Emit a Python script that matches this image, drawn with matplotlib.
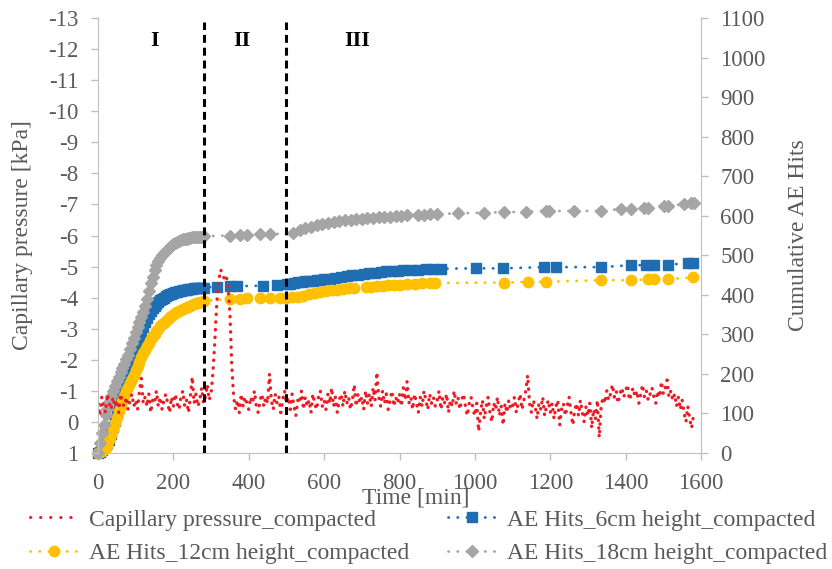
import numpy as np
import matplotlib
matplotlib.use("Agg")
import matplotlib.pyplot as plt
from matplotlib.lines import Line2D

plt.rcParams["font.family"] = ["Liberation Serif", "DejaVu Serif"]
plt.rcParams["axes.unicode_minus"] = False

# ---- data ----
# time grid of the early (dense) part, minutes
t_early = [0, 5, 10, 15, 20, 25, 30, 35, 40, 45, 50, 55, 60, 65, 70, 75, 80, 85, 90, 95,
           100, 105, 110, 115, 120, 125, 130, 135, 140, 145, 150, 155, 160, 165, 170, 175,
           180, 185, 190, 195, 200, 205, 210, 215, 220, 225, 230, 235, 240, 245, 250, 255,
           260, 265, 270, 275, 280]

hits6_early = [0, 3, 8, 14, 20, 26, 33, 48, 65, 82, 100, 118, 138, 158, 178, 198, 216, 233, 250, 264,
               276, 286, 295, 307, 319, 331, 342, 351, 359, 366, 372, 377, 382, 386, 390, 393,
               396, 399, 401, 403, 405, 407, 408, 409, 410, 411, 412, 413, 414, 415, 415, 416,
               416, 417, 417, 418, 418]
hits12_early = [0, 2, 5, 9, 13, 20, 32, 45, 60, 76, 92, 105, 118, 131, 144, 157, 168, 178, 187, 198,
                209, 220, 231, 242, 252, 261, 270, 279, 288, 295, 302, 308, 314, 320, 325, 330,
                335, 339, 343, 347, 350, 353, 356, 359, 361, 363, 366, 368, 370, 372, 375, 377,
                379, 380, 382, 383, 385]
hits18_early = [0, 25, 50, 72, 95, 112, 130, 145, 158, 170, 183, 193, 204, 215, 226, 237, 248, 262, 277, 291,
                305, 318, 331, 344, 357, 372, 390, 410, 429, 446, 462, 475, 485, 493, 500, 506,
                511, 516, 520, 524, 528, 531, 534, 537, 539, 540, 541, 542, 543, 544, 545, 545,
                546, 546, 547, 547, 548]

t6_late = [316, 351, 369, 439, 476, 502, 510, 520, 530, 540, 550, 560, 570, 580, 590, 600, 615, 630,
           645, 660, 675, 690, 705, 720, 735, 750, 765, 780, 795, 810, 830, 850, 870, 890, 910,
           1002, 1074, 1183, 1215, 1334, 1414, 1454, 1475, 1512, 1565, 1579]
hits6_late = [421, 422, 422, 423, 425, 427, 428, 430, 432, 433, 434, 435, 436, 437, 438, 439, 441, 443,
              445, 447, 449, 451, 453, 455, 456, 457, 459, 460, 461, 462, 463, 464, 465, 466, 466,
              467, 467, 470, 470, 470, 475, 475, 475, 476, 480, 481]

t12_late = [351, 377, 396, 431, 457, 484, 500, 515, 530, 545, 560, 575, 590, 605, 620, 635, 650, 665,
            680, 710, 725, 740, 755, 770, 785, 800, 820, 840, 860, 880, 895,
            1076, 1140, 1188, 1334, 1414, 1459, 1475, 1512, 1579]
hits12_late = [389, 390, 391, 391, 392, 392, 393, 394, 395, 398, 401, 404, 407, 409, 411, 413, 415, 417,
               418, 420, 421, 422, 423, 424, 425, 426, 427, 428, 429, 430, 430,
               431, 433, 433, 437, 437, 439, 440, 440, 444]

t18_late = [351, 377, 396, 431, 457, 518, 535, 550, 565, 580, 595, 610, 625, 640, 655, 670, 685, 700,
            715, 730, 745, 760, 775, 790, 805, 820, 850, 865, 880, 900,
            954, 1023, 1076, 1135, 1188, 1196, 1262, 1334, 1387, 1414, 1449, 1459, 1502, 1512,
            1555, 1573, 1581]
hits18_late = [550, 552, 552, 553, 553, 556, 563, 568, 572, 576, 579, 582, 584, 586, 588, 590, 591, 592,
               593, 594, 596, 597, 598, 599, 600, 601, 603, 603, 604, 604,
               606, 608, 609, 610, 612, 612, 612, 612, 617, 617, 619, 619, 625, 625,
               629, 631, 632]

# capillary pressure [kPa], logged every 5 min from t = 0 (one row = 100 min)
p_interval = 5
pressure = [
    -0.6, -0.2, -0.8, -0.5, -0.3, -0.9, -0.6, -0.4, -0.8, -0.5, -0.7, -0.3, -0.9, -0.6, -0.5, -0.8, -0.4, -0.7, -0.9, -0.5,
    -0.7, -0.4, -1.0, -1.4, -0.6, -0.8, -0.5, -0.9, -0.3, -0.7, -0.6, -1.0, -0.5, -0.8, -0.4, -0.7, -0.9, -0.6, -0.3, -0.8,
    -0.5, -0.9, -0.6, -0.4, -0.8, -1.0, -0.5, -0.7, -0.3, -0.8, -1.45, -0.6, -0.9, -0.5, -0.7, -1.1, -0.6, -0.8, -1.2, -0.7,
    -0.9, -1.6, -2.6, -3.8, -4.5, -4.9, -4.8, -4.6, -4.7, -4.4, -3.5, -1.8, -0.8, -0.4, -0.7, -0.3, -0.9, -0.5, -0.8, -0.6,
    -0.4, -0.8, -0.6, -1.0, -0.5, -0.3, -0.7, -0.9, -0.5, -0.8, -0.6, -1.55, -0.7, -0.4, -0.9, -0.6, -0.8, -0.3, -0.7, -1.0,
    -0.6, -0.8, -0.4, -0.9, -0.5, -0.2, -0.7, -0.6, -1.0, -0.4, -0.8, -0.5, -0.7, -0.3, -0.9, -0.6, -0.4, -0.8, -1.0, -0.5,
    -0.7, -0.4, -0.9, -0.6, -1.1, -0.5, -0.8, -0.3, -0.7, -0.9, -0.5, -1.0, -0.6, -0.8, -0.4, -0.7, -1.2, -0.5, -0.9, -0.6,
    -0.8, -0.4, -1.0, -0.6, -0.9, -0.5, -1.1, -0.7, -1.6, -0.8, -0.5, -1.0, -0.6, -0.9, -0.4, -0.7, -1.0, -0.5, -0.8, -0.6,
    -0.9, -0.5, -1.1, -0.7, -1.3, -0.6, -0.8, -0.4, -0.9, -0.6, -0.3, -0.8, -0.5, -1.0, -0.7, -0.4, -0.9, -0.6, -0.8, -0.5,
    -0.7, -1.0, -0.4, -0.8, -0.6, -0.9, -0.3, -0.7, -0.5, -1.0, -0.6, -0.8, -0.4, -0.7, -0.9, -0.5, -0.2, -0.6, -0.8, -0.4,
    -0.2, -0.6, 0.3, -0.3, -0.7, -0.1, -0.5, -0.8, -0.3, 0.0, -0.6, -0.4, -0.8, -0.2, -0.5, 0.1, -0.6, -0.3, -0.7, -0.4,
    -0.5, -0.8, -0.3, -0.6, -0.9, -0.4, -0.7, -1.0, -1.5, -0.6, -0.3, -0.7, -0.5, -0.1, -0.6, -0.4, -0.8, -0.2, -0.5, -0.7,
    -0.3, -0.6, -0.1, -0.5, -0.7, 0.1, -0.4, -0.6, -0.2, -0.5, -0.8, -0.3, 0.1, -0.4, -0.6, -0.2, -0.7, -0.3, 0.0, -0.5,
    -0.2, -0.6, 0.2, -0.4, -0.1, -0.7, 0.5, -0.5, -0.8, -0.6, -1.0, -0.7, -0.9, -1.2, -0.8, -1.0, -0.6, -0.9, -1.1, -0.8,
    -1.0, -1.2, -0.7, -0.9, -1.1, -0.8, -1.0, -0.6, -0.9, -1.2, -0.8, -1.0, -0.7, -0.9, -1.1, -0.8, -0.6, -1.0, -0.8, -1.3,
    -0.9, -1.1, -1.35, -0.8, -1.0, -0.7, -0.9, -0.5, -0.8, -0.4, -0.7, -0.3, 0.0, -0.5, -0.1, 0.2, -0.2]
t_pressure = np.arange(len(pressure)) * p_interval

stage_bounds = [282, 500]
stage_names = ["I", "II", "III"]
stage_label_t = [151, 382, 687]

# ---- plot ----
c_red = "#ED1C24"
c_blue = "#1F6EB4"
c_yel = "#FFC000"
c_gray = "#A5A5A5"
c_axis = "#BFBFBF"
c_text = "#595959"
fs_tick = 16.5
fs_lab = 17
dots = (0, (0.1, 3.2))

fig = plt.figure(figsize=(8.32, 5.69), dpi=100)
ax = fig.add_axes([98 / 832, 1 - 453 / 569, 603 / 832, 435 / 569])
ax2 = ax.twinx()

# AE hits on ax (right side), pressure on ax2 (left side, drawn on top)
ax.yaxis.tick_right()
ax.yaxis.set_label_position("right")
ax2.yaxis.tick_left()
ax2.yaxis.set_label_position("left")

l6, = ax.plot(t_early + t6_late, hits6_early + hits6_late, color=c_blue, marker="s",
              markersize=7, linestyle=dots, lw=2, dash_capstyle="round", clip_on=False, zorder=2)
l12, = ax.plot(t_early + t12_late, hits12_early + hits12_late, color=c_yel, marker="o",
               markersize=7.5, linestyle=dots, lw=2, dash_capstyle="round", clip_on=False, zorder=3)
l18, = ax.plot(t_early + t18_late, hits18_early + hits18_late, color=c_gray, marker="D",
               markersize=6.5, linestyle=dots, lw=2, dash_capstyle="round", clip_on=False, zorder=4)

ax2.plot(t_pressure, pressure, color=c_red, linestyle=(0, (0.1, 2.2)), lw=2.4,
         dash_capstyle="round")
lp = Line2D([], [], color=c_red, linestyle=dots, lw=2.2, dash_capstyle="round")

for tb in stage_bounds:
    ax2.axvline(tb, ymin=0, ymax=0.99, color="black", lw=2.2, linestyle=(0, (2.6, 1.6)))
for name, tx in zip(stage_names, stage_label_t):
    ax2.text(tx, -12.25, name, ha="center", va="center", fontsize=16, fontweight="bold",
             color="black")

ax.set_xlim(0, 1600)
ax.set_ylim(0, 1100)
ax.set_yticks(np.arange(0, 1101, 100))
ax2.set_ylim(1, -13)
ax2.set_yticks(np.arange(-13, 2, 1))
ax.set_xticks(np.arange(0, 1601, 200))

for a in (ax, ax2):
    for s in a.spines.values():
        s.set_color(c_axis)
    a.spines["top"].set_visible(False)
    a.tick_params(colors=c_axis, labelcolor=c_text, labelsize=fs_tick, length=5, width=1)
ax.spines["left"].set_visible(False)
ax2.spines["right"].set_visible(False)
ax2.spines["bottom"].set_visible(False)
ax.tick_params(axis="y", pad=9)
ax.tick_params(axis="x", pad=9.5)
ax2.tick_params(axis="y", pad=9)

ax2.set_ylabel("Capillary pressure [kPa]", fontsize=fs_lab, color=c_text)
ax2.yaxis.set_label_coords(-0.108, 0.5)
ax.set_ylabel("Cumulative AE Hits", fontsize=fs_lab, color=c_text)
ax.yaxis.set_label_coords(1.145, 0.5)
ax.set_xlabel("Time [min]", fontsize=fs_lab, color=c_text)
ax.xaxis.set_label_coords(0.527, -0.08)

leg_kw = dict(frameon=False, fontsize=fs_lab, handlelength=2.0, handletextpad=0.5,
              labelspacing=0.52, borderpad=0, borderaxespad=0, numpoints=1,
              labelcolor=c_text, loc="upper left")
fig.legend([lp, l12], ["Capillary pressure_compacted", "AE Hits_12cm height_compacted"],
           bbox_to_anchor=(30 / 832, 1 - 509 / 569), **leg_kw)
fig.legend([l6, l18], ["AE Hits_6cm height_compacted", "AE Hits_18cm height_compacted"],
           bbox_to_anchor=(448 / 832, 1 - 509 / 569), **leg_kw)

fig.savefig("out.png", dpi=100)
